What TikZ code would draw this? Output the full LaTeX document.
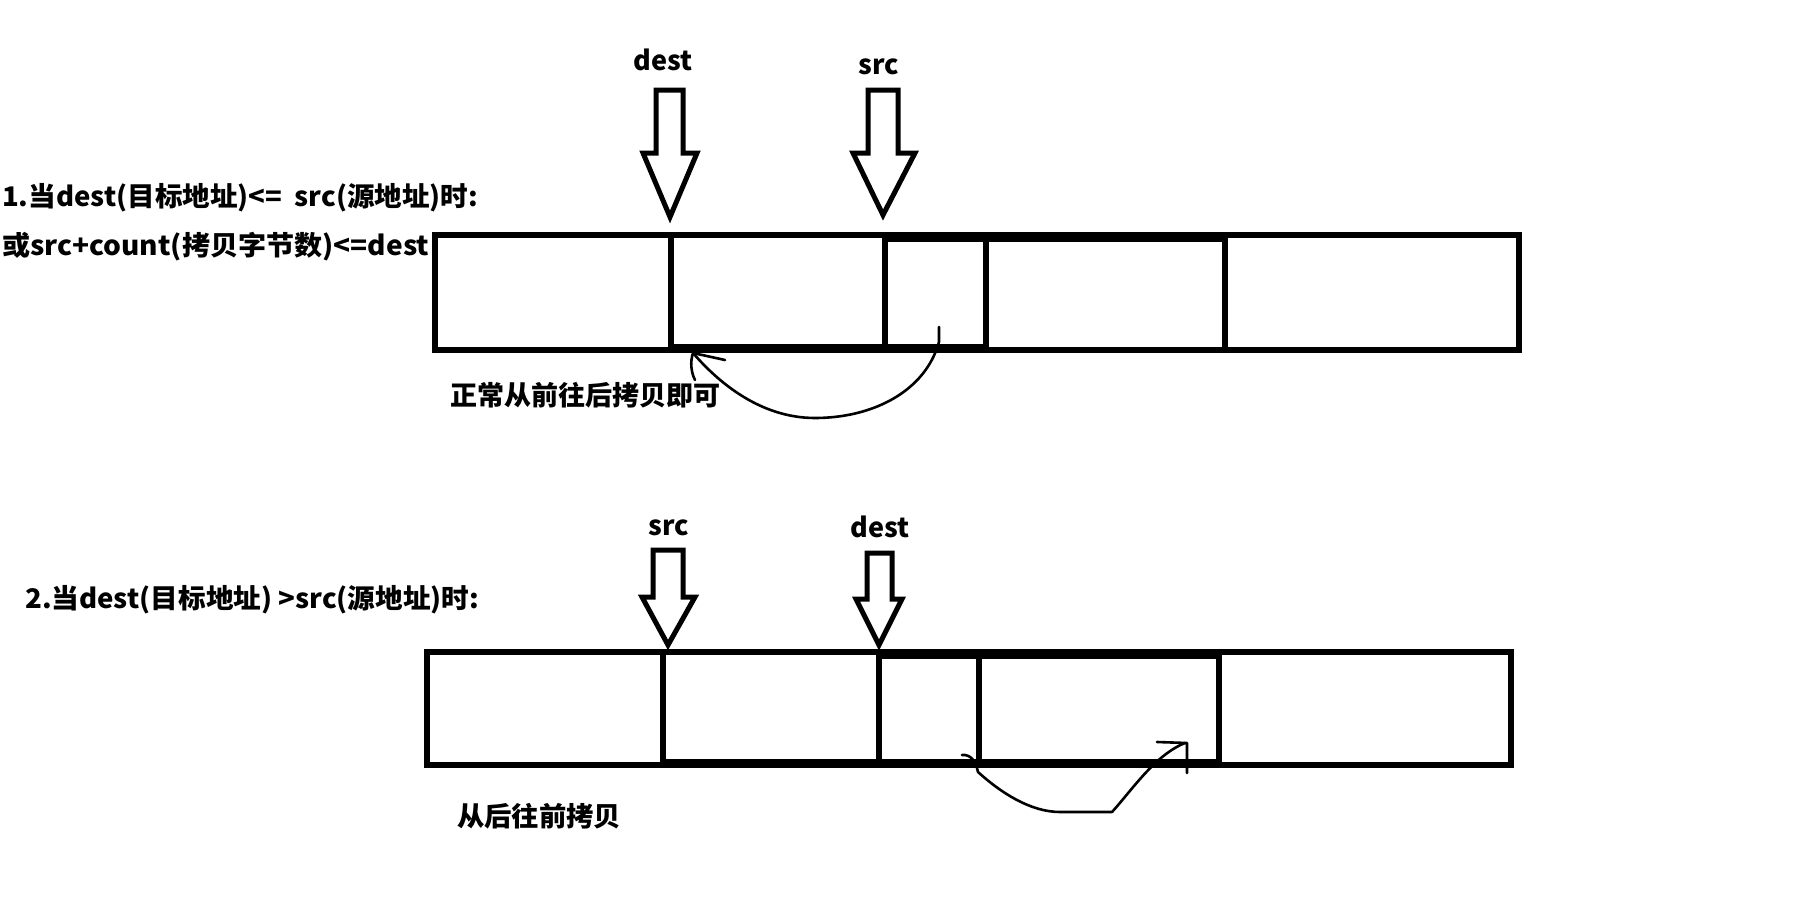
\documentclass[tikz,border=0pt]{standalone}
\usepackage{fontspec}
\usepackage{graphicx}
\setmainfont{Noto Sans CJK SC}
\newcommand\fitw[2]{\resizebox{#1}{\height}{#2}}
\tikzset{
  txt/.style={inner sep=0pt, font=\fontsize{27pt}{30pt}\selectfont\bfseries},
  boxline/.style={line width=5.5pt},
  thickseg/.style={line width=9pt},
  blockarrow/.style={line width=5pt, line join=miter, fill=white},
  hand/.style={line width=2.6pt, line cap=round, line join=round},
}
\begin{document}
\begin{tikzpicture}[x=1pt,y=-1pt]
\useasboundingbox[fill=white] (0,0) rectangle (1809,899);

% ---------- part 1 ----------
\node[txt] (dest1) at (663,60) {dest};
\node[txt] (src1) at (879,67) {src};

\draw[blockarrow] (656,90) -- (683,90) -- (683,153) -- (697,153) -- (670,217) -- (643,153) -- (656,153) -- cycle;
\draw[blockarrow] (868,90) -- (898,90) -- (898,153) -- (915,153) -- (883,215) -- (853,153) -- (868,153) -- cycle;

\node[txt, anchor=west] (cond1) at (2,198) {\fitw{476pt}{1.当dest(目标地址)<=\ \ src(源地址)时:}};
\node[txt, anchor=west] (cond1b) at (2,247) {\fitw{427pt}{或src+count(拷贝字节数)<=dest}};

\draw[boxline] (435,235) rectangle (1519,350);
\foreach \x in {671,885,986,1225} \draw[boxline] (\x,235) -- (\x,350);
\draw[thickseg] (885,237.5) -- (1225,237.5);
\draw[thickseg] (671,348.5) -- (986,348.5);

\node[txt, anchor=west] (note1) at (450,395) {\fitw{270pt}{正常从前往后拷贝即可}};

\coordinate (c1s) at (939,327);
\coordinate (c1e) at (693,353);
\draw[hand] (c1s) -- (939,342) .. controls (925,392) and (872,418) .. (815,418) .. controls (760,418) and (718,382) .. (c1e);
\draw[hand] (725,360) -- (c1e) .. controls (690,362) and (691,372) .. (695,380);

% ---------- part 2 ----------
\node[txt] (src2) at (669,528) {src};
\node[txt] (dest2) at (880,527) {dest};

\draw[blockarrow] (653,550) -- (683,550) -- (683,597) -- (695,597) -- (668,645) -- (642,597) -- (653,597) -- cycle;
\draw[blockarrow] (867,553) -- (892,553) -- (892,599) -- (902,599) -- (879,645) -- (856,599) -- (867,599) -- cycle;

\node[txt, anchor=west] (cond2) at (25,600) {\fitw{454pt}{2.当dest(目标地址) >src(源地址)时:}};

\draw[boxline] (427,652) rectangle (1511,765);
\foreach \x in {663,879,979,1219} \draw[boxline] (\x,652) -- (\x,765);
\draw[thickseg] (879,654.5) -- (1219,654.5);
\draw[thickseg] (663,763.5) -- (1219,763.5);

\node[txt, anchor=west] (note2) at (457,816) {\fitw{164pt}{从后往前拷贝}};

\coordinate (c2s) at (962,755);
\coordinate (c2e) at (1185,743);
\draw[hand] (c2s) .. controls (971,754) and (976,762) .. (978,772) .. controls (1000,792) and (1030,812) .. (1060,812) -- (1112,812) .. controls (1132,790) and (1155,755) .. (c2e);
\draw[hand] (1157,742) -- (1187,743) -- (1187,773);
\end{tikzpicture}
\end{document}
